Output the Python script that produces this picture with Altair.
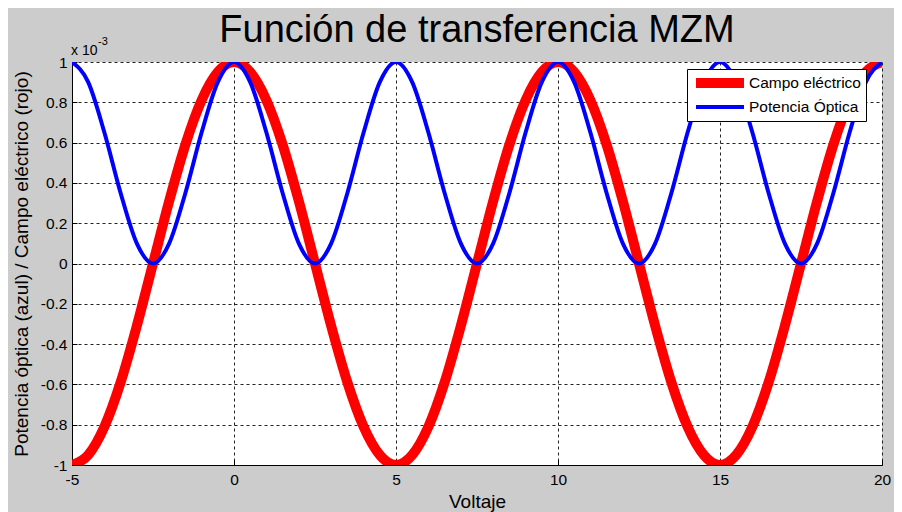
import altair as alt
import pandas as pd

# Voltage samples (V)
voltaje = [-5.0, -4.5, -4.0, -3.5, -3.0, -2.5, -2.0, -1.5, -1.0, -0.5,
           0.0, 0.5, 1.0, 1.5, 2.0, 2.5, 3.0, 3.5, 4.0, 4.5,
           5.0, 5.5, 6.0, 6.5, 7.0, 7.5, 8.0, 8.5, 9.0, 9.5,
           10.0, 10.5, 11.0, 11.5, 12.0, 12.5, 13.0, 13.5, 14.0, 14.5,
           15.0, 15.5, 16.0, 16.5, 17.0, 17.5, 18.0, 18.5, 19.0, 19.5, 20.0]

# Campo eléctrico (rojo), x 10^-3
campo = [-1.0, -0.95, -0.81, -0.59, -0.31, 0.0, 0.31, 0.59, 0.81, 0.95,
         1.0, 0.95, 0.81, 0.59, 0.31, 0.0, -0.31, -0.59, -0.81, -0.95,
         -1.0, -0.95, -0.81, -0.59, -0.31, 0.0, 0.31, 0.59, 0.81, 0.95,
         1.0, 0.95, 0.81, 0.59, 0.31, 0.0, -0.31, -0.59, -0.81, -0.95,
         -1.0, -0.95, -0.81, -0.59, -0.31, 0.0, 0.31, 0.59, 0.81, 0.95, 1.0]

# Potencia óptica (azul), x 10^-3
potencia = [1.0, 0.9, 0.65, 0.35, 0.1, 0.0, 0.1, 0.35, 0.65, 0.9,
            1.0, 0.9, 0.65, 0.35, 0.1, 0.0, 0.1, 0.35, 0.65, 0.9,
            1.0, 0.9, 0.65, 0.35, 0.1, 0.0, 0.1, 0.35, 0.65, 0.9,
            1.0, 0.9, 0.65, 0.35, 0.1, 0.0, 0.1, 0.35, 0.65, 0.9,
            1.0, 0.9, 0.65, 0.35, 0.1, 0.0, 0.1, 0.35, 0.65, 0.9, 1.0]

series = ["Campo eléctrico", "Potencia Óptica"]
colors = ["#ff0000", "#0000ff"]
widths = [10, 4]

x_ticks = [-5, 0, 5, 10, 15, 20]
y_ticks = [-1, -0.8, -0.6, -0.4, -0.2, 0, 0.2, 0.4, 0.6, 0.8, 1]

FONT = "Liberation Sans"
W, H = 810, 403

df_campo = pd.DataFrame({"voltaje": voltaje, "valor": campo, "serie": series[0]})
df_pot = pd.DataFrame({"voltaje": voltaje, "valor": potencia, "serie": series[1]})

legend = alt.Legend(
    title=None, orient="none", legendX=615, legendY=7,
    fillColor="white", strokeColor="black", padding=5, cornerRadius=0,
    symbolType="M-6,0H6", symbolSize=64, symbolOffset=19,
    labelFont=FONT, labelFontSize=15.5, labelColor="black", labelOffset=20,
    clipHeight=18, rowPadding=6, symbolOpacity=1,
)

x_scale = alt.Scale(domain=[-5, 20], nice=False, zero=False)
y_scale = alt.Scale(domain=[-1, 1], nice=False, zero=False)

x_main = alt.X(
    "voltaje:Q", scale=x_scale,
    axis=alt.Axis(
        values=x_ticks, title="Voltaje",
        labelExpr="(datum.value < 0 ? '-' : '') + format(abs(datum.value), 'd')",
        titleX=W / 2, titleY=42, titleBaseline="alphabetic",
    ),
)
y_main = alt.Y(
    "valor:Q", scale=y_scale,
    axis=alt.Axis(
        values=y_ticks, title="Potencia óptica (azul) / Campo eléctrico (rojo)",
        labelExpr="(datum.value < 0 ? '-' : '') + format(abs(datum.value), '.1~f')",
        titleX=-51, titleY=H / 2, titleBaseline="middle", titleAngle=-90,
    ),
)
# secondary axes used only to draw MATLAB-style inward tick marks
x_in = alt.X(
    "voltaje:Q", scale=x_scale,
    axis=alt.Axis(orient="top", offset=-H, values=x_ticks, title=None, labels=False,
                  domain=False, grid=False, ticks=True, tickSize=5, tickColor="black", tickWidth=1),
)
y_in = alt.Y(
    "valor:Q", scale=y_scale,
    axis=alt.Axis(orient="right", offset=-W, values=y_ticks, title=None, labels=False,
                  domain=False, grid=False, ticks=True, tickSize=5, tickColor="black", tickWidth=1),
)

color_enc = alt.Color("serie:N", scale=alt.Scale(domain=series, range=colors), legend=legend)
width_enc = alt.StrokeWidth("serie:N", scale=alt.Scale(domain=series, range=widths), legend=legend)

red = alt.Chart(df_campo).mark_line(clip=True, interpolate="monotone", strokeJoin="round").encode(
    x=x_main, y=y_main, color=color_enc, strokeWidth=width_enc
)
blue = alt.Chart(df_pot).mark_line(clip=True, interpolate="monotone", strokeJoin="round").encode(
    x=x_in, y=y_in, color=color_enc, strokeWidth=width_enc
)

one = pd.DataFrame({"a": [0]})
exp_base = alt.Chart(one).mark_text(
    text="x 10", font=FONT, fontSize=14, color="black", align="left", baseline="alphabetic"
).encode(x=alt.value(-1), y=alt.value(-7))
exp_pow = alt.Chart(one).mark_text(
    text="-3", font=FONT, fontSize=11, color="black", align="left", baseline="alphabetic"
).encode(x=alt.value(26), y=alt.value(-17))

chart = alt.layer(red, blue, exp_base, exp_pow).resolve_scale(
    x="independent", y="independent"
).properties(
    width=W, height=H,
    title=alt.TitleParams(
        "Función de transferencia MZM", font=FONT, fontSize=38, fontWeight="normal",
        color="black", anchor="middle", offset=6, dy=20,
    ),
    background="#cccccc",
    padding={"left": 64, "top": 54, "right": 12, "bottom": 47},
    autosize=alt.AutoSizeParams(type="none"),
).configure_view(
    fill="white", stroke=None
).configure_axis(
    domainColor="black", domainWidth=1, grid=True, gridColor="#222222",
    gridDash=[3, 3], gridWidth=1, ticks=False, tickSize=0,
    labelFont=FONT, labelFontSize=15.5, labelColor="black",
    labelFlush=False, labelOverlap=False,
    titleFont=FONT, titleFontSize=19, titleFontWeight="normal", titleColor="black",
).configure_axisX(labelPadding=7).configure_axisY(labelPadding=5)

chart.save("out.html", embed_options={"renderer": "svg", "actions": False})
